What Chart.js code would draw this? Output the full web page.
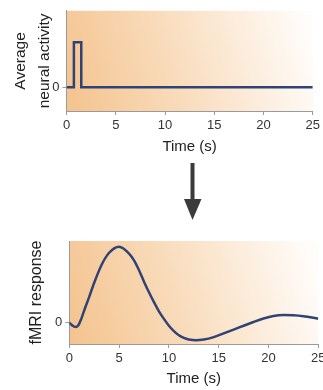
<!DOCTYPE html>
<html lang="en">
<head>
    <title>Neural activity and fMRI response</title>
    <script src="https://cdn.jsdelivr.net/npm/chart.js"></script>
    <style>
        html, body {
            margin: 0;
            padding: 0;
            width: 323px;
            height: 390px;
            overflow: hidden;
            background: #fff;
        }
        #neural {
            position: absolute;
            left: 0;
            top: 0;
        }
        #fmri {
            position: absolute;
            left: 0;
            top: 220px;
        }
        #arrow {
            position: absolute;
            left: 0;
            top: 0;
        }
    </style>
</head>
<body>
    <canvas id="neural" width="323" height="160"></canvas>
    <svg id="arrow" width="323" height="230">
        <rect x="190.5" y="163" width="4" height="38" fill="#3b3b3b"></rect>
        <polygon points="184,199 201.5,199 192.5,220" fill="#3b3b3b"></polygon>
    </svg>
    <canvas id="fmri" width="340" height="170"></canvas>

    <script>
        // top panel: short burst of activity
        const neuralTime = [0, 0.75, 0.75, 1.5, 1.5, 25];
        const neuralActivity = [0, 0, 1, 1, 0, 0];

        // bottom panel: haemodynamic response
        const hrfTime = [0, 0.3, 0.6, 0.9, 1.2, 1.6, 2, 2.4, 3.2, 4, 5, 6, 6.5, 7, 7.5, 8, 8.5, 9, 9.5,
            10, 10.5, 11, 11.5, 12, 12.7, 13.5, 14.5, 15.5, 16.5, 17.5, 18.5, 19.5, 20.5, 21.5, 22.5, 23.5, 25];
        const hrfValue = [0, -0.035, -0.055, -0.035, 0.05, 0.2, 0.34, 0.49, 0.75, 0.92, 1.0, 0.91, 0.82, 0.69, 0.54, 0.4, 0.27, 0.15, 0.05,
            -0.04, -0.11, -0.165, -0.2, -0.22, -0.23, -0.222, -0.19, -0.14, -0.09, -0.04, 0.01, 0.055, 0.088, 0.1, 0.097, 0.085, 0.053];

        const timeTicks = [0, 5, 10, 15, 20, 25];
        const yTicks = [0];

        const lineColor = '#2f4474';
        const axisColor = '#9a9a9a';
        const fontFamily = '"Liberation Sans", Arial, sans-serif';

        const shade = {
            id: 'shade',
            beforeDraw(chart) {
                const {ctx, chartArea: a} = chart;
                const g = ctx.createLinearGradient(a.left, a.bottom, a.right, a.top + (a.bottom - a.top) * 0.3);
                g.addColorStop(0, 'rgb(244,195,142)');
                g.addColorStop(0.45, 'rgb(249,220,188)');
                g.addColorStop(1, 'rgb(255,253,251)');
                ctx.save();
                ctx.fillStyle = g;
                ctx.fillRect(a.left, a.top, a.right - a.left, a.bottom - a.top);
                ctx.restore();
            }
        };

        function points(xs, ys) {
            return xs.map((x, i) => ({x: x, y: ys[i]}));
        }

        function makeChart(id, data, opts) {
            return new Chart(document.getElementById(id), {
                type: 'line',
                data: {
                    datasets: [{
                        data: data,
                        borderColor: lineColor,
                        borderWidth: 2.5,
                        pointRadius: 0,
                        borderJoinStyle: 'miter',
                        cubicInterpolationMode: opts.smooth ? 'monotone' : 'default',
                        tension: 0
                    }]
                },
                options: {
                    responsive: false,
                    animation: false,
                    layout: {padding: opts.padding},
                    plugins: {legend: {display: false}, tooltip: {enabled: false}},
                    scales: {
                        x: {
                            type: 'linear',
                            min: 0,
                            max: 25,
                            afterBuildTicks: s => { s.ticks = timeTicks.map(v => ({value: v})); },
                            afterFit: s => { s.height = opts.xHeight; },
                            grid: {display: true, drawOnChartArea: false, tickLength: 4, color: axisColor},
                            border: {display: true, color: axisColor},
                            ticks: {color: '#333', padding: 3, maxRotation: 0, font: {family: fontFamily, size: 13}},
                            title: {
                                display: true,
                                text: 'Time (s)',
                                color: '#222',
                                padding: {top: 0, bottom: opts.xTitlePad},
                                font: {family: fontFamily, size: 15}
                            }
                        },
                        y: {
                            min: opts.yMin,
                            max: opts.yMax,
                            afterBuildTicks: s => { s.ticks = yTicks.map(v => ({value: v})); },
                            afterFit: s => { s.width = opts.yWidth; },
                            grid: {display: true, drawOnChartArea: false, tickLength: 4, color: axisColor},
                            border: {display: true, color: axisColor},
                            ticks: {color: '#333', padding: 3, font: {family: fontFamily, size: 13}},
                            title: {
                                display: true,
                                text: opts.yTitle,
                                color: '#222',
                                padding: {top: opts.yTitlePad, bottom: 0},
                                font: {family: fontFamily, size: opts.yTitleSize, lineHeight: opts.yLineHeight}
                            }
                        }
                    }
                },
                plugins: [shade]
            });
        }

        makeChart('neural', points(neuralTime, neuralActivity), {
            smooth: false,
            padding: {top: 9, right: 9, left: 0, bottom: 0},
            xHeight: 49,
            xTitlePad: 4.5,
            yWidth: 66.5,
            yMin: -0.53,
            yMax: 1.7,
            yTitle: ['Average', 'neural activity'],
            yTitleSize: 15.5,
            yLineHeight: 1.55,
            yTitlePad: 9
        });

        makeChart('fmri', points(hrfTime, hrfValue), {
            smooth: true,
            padding: {top: 21, right: 21.7, left: 0, bottom: 0},
            xHeight: 46,
            xTitlePad: 2,
            yWidth: 69.3,
            yMin: -0.28,
            yMax: 1.075,
            yTitle: 'fMRI response',
            yTitleSize: 16,
            yLineHeight: 1.2,
            yTitlePad: 27
        });
    </script>
</body>
</html>
